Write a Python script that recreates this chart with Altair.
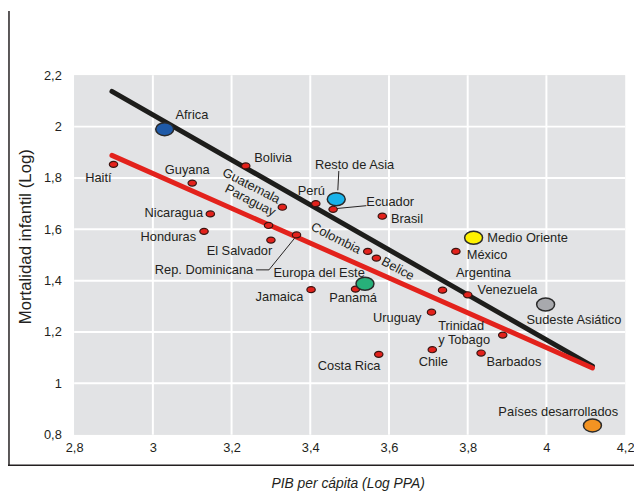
import altair as alt
import pandas as pd

# --- data ---
countries = ["Haití", "Guyana", "Bolivia", "Guatemala", "Perú", "Nicaragua", "Paraguay",
             "Honduras", "Rep. Dominicana", "El Salvador", "Ecuador", "Brasil", "México",
             "Colombia", "Belice", "Panamá", "Jamaica", "Argentina", "Venezuela", "Uruguay",
             "Trinidad y Tobago", "Chile", "Costa Rica", "Barbados"]
gdp = [2.90, 3.10, 3.236, 3.329, 3.414, 3.146, 3.294, 3.13, 3.365, 3.30, 3.458, 3.583, 3.77,
       3.546, 3.568, 3.515, 3.402, 3.736, 3.80, 3.708, 3.889, 3.71, 3.574, 3.834]
mort = [1.853, 1.78, 1.847, 1.686, 1.70, 1.66, 1.615, 1.592, 1.578, 1.558, 1.678, 1.651, 1.514,
        1.514, 1.488, 1.367, 1.365, 1.363, 1.345, 1.277, 1.188, 1.131, 1.113, 1.118]

regions = ["Africa", "Resto de Asia", "Medio Oriente", "Europa del Este", "Sudeste Asiático",
           "Países desarrollados"]
reg_gdp = [3.03, 3.466, 3.815, 3.539, 3.998, 4.117]
reg_mort = [1.99, 1.717, 1.567, 1.388, 1.307, 0.836]
reg_colors = ["#1f5aa8", "#19b3ea", "#fff200", "#27b07a", "#a8a9ad", "#f39322"]

# regression lines
line_names = ["Regiones", "Regiones", "América Latina", "América Latina"]
line_x = [2.896, 4.117, 2.896, 4.117]
line_y = [2.137, 1.067, 1.888, 1.060]
line_colors = ["#1d1d1b", "#e3221c"]

# labels
lab_text = ["Africa", "Haití", "Guyana", "Bolivia", "Guatemala", "Paraguay", "Perú",
            "Resto de Asia", "Ecuador", "Brasil", "Nicaragua", "Honduras", "El Salvador",
            "Rep. Dominicana", "Europa del Este", "Jamaica", "Panamá", "Colombia", "Belice",
            "Medio Oriente", "México", "Argentina", "Venezuela", "Sudeste Asiático", "Uruguay",
            "Trinidad", "y Tobago", "Chile", "Costa Rica", "Barbados", "Países desarrollados"]
lab_x = [3.0575, 2.895, 3.0875, 3.2575, 3.25, 3.2475, 3.4025,
         3.5125, 3.5425, 3.605, 3.1275, 3.11, 3.22,
         3.255, 3.4225, 3.3825, 3.50875, 3.465, 3.6225,
         3.85, 3.7975, 3.84, 3.825, 4.07, 3.6825,
         3.725, 3.725, 3.7125, 3.49875, 3.8475, 4.03]
lab_y = [2.046, 1.80, 1.831, 1.877, 1.769, 1.712, 1.75,
         1.85, 1.708, 1.638, 1.665, 1.569, 1.515,
         1.442, 1.431, 1.335, 1.331, 1.565, 1.446,
         1.565, 1.50, 1.431, 1.362, 1.246, 1.254,
         1.222, 1.168, 1.081, 1.069, 1.081, 0.888]
lab_align = ["left", "right", "center", "left", "center", "center", "center",
             "center", "left", "left", "right", "right", "center",
             "right", "center", "right", "center", "center", "center",
             "left", "left", "center", "left", "center", "right",
             "left", "left", "center", "center", "left", "center"]
lab_angle = [0, 0, 0, 0, 27, 27, 0,
             0, 0, 0, 0, 0, 0,
             0, 0, 0, 0, 27, 28,
             0, 0, 0, 0, 0, 0,
             0, 0, 0, 0, 0, 0]

# leader lines
lead_id = ["Resto de Asia", "Resto de Asia", "Ecuador", "Ecuador",
           "Rep. Dominicana", "Rep. Dominicana", "Rep. Dominicana"]
lead_order = [0, 1, 0, 1, 0, 1, 2]
lead_x = [3.4725, 3.470, 3.4675, 3.5425, 3.262, 3.295, 3.36]
lead_y = [1.827, 1.752, 1.681, 1.692, 1.442, 1.442, 1.565]

x_ticks = [2.8, 3.0, 3.2, 3.4, 3.6, 3.8, 4.0, 4.2]
y_ticks = [0.8, 1.0, 1.2, 1.4, 1.6, 1.8, 2.0, 2.2]

# --- tables ---
df_c = pd.DataFrame({"pais": countries, "pib": gdp, "mort": mort})
df_r = pd.DataFrame({"region": regions, "pib": reg_gdp, "mort": reg_mort, "color": reg_colors})
df_l = pd.DataFrame({"serie": line_names, "pib": line_x, "mort": line_y})
df_t = pd.DataFrame({"txt": lab_text, "pib": lab_x, "mort": lab_y, "align": lab_align,
                     "angle": lab_angle})
df_lead = pd.DataFrame({"id": lead_id, "o": lead_order, "pib": lead_x, "mort": lead_y})
df_xt = pd.DataFrame({"pib": x_ticks[1:-1]})
df_yt = pd.DataFrame({"mort": y_ticks[1:-1]})
df_bg = pd.DataFrame({"x0": [x_ticks[0]], "x1": [x_ticks[-1]],
                      "y0": [y_ticks[0]], "y1": [y_ticks[-1]]})

W, H = 558, 364
FONT = "Liberation Sans"
TXT = "#231f20"
BG = "#e2e3e5"
ELLIPSE = "M -1 0 A 1 0.72 0 1 1 1 0 A 1 0.72 0 1 1 -1 0 Z"

xs = alt.Scale(domain=[2.8, 4.2], nice=False, zero=False)
ys = alt.Scale(domain=[0.8, 2.2], nice=False, zero=False)

fmt = "replace(format(datum.value, '~g'), '.', ',')"

x_axis = alt.Axis(
    values=x_ticks, labelExpr=fmt, title="PIB per cápita (Log PPA)",
    grid=False, domain=False, ticks=False,
    labelFont=FONT, labelFontSize=13, labelColor=TXT, labelPadding=7,
    titleFont=FONT, titleFontSize=14, titleFontStyle="italic", titleFontWeight="normal",
    titleColor=TXT, titleX=277, titleY=49, titleBaseline="middle", titleAnchor="middle",
    labelFlush=False)
y_axis = alt.Axis(
    values=y_ticks, labelExpr=fmt, title="Mortalidad infantil (Log)",
    grid=False, domain=False, ticks=False,
    labelFont=FONT, labelFontSize=13, labelColor=TXT, labelPadding=13,
    titleFont=FONT, titleFontSize=17, titleFontWeight="normal", titleColor=TXT,
    titleX=-49, titleY=163, titleAngle=270, titleBaseline="middle", titleAlign="center",
    labelFlush=False)

bg = alt.Chart(df_bg).mark_rect(color=BG).encode(
    x=alt.X("x0:Q", scale=xs, axis=x_axis), x2="x1:Q",
    y=alt.Y("y0:Q", scale=ys, axis=y_axis), y2="y1:Q")

grid_x = alt.Chart(df_xt).mark_rule(color="white", strokeWidth=2).encode(
    x=alt.X("pib:Q", scale=xs))
grid_y = alt.Chart(df_yt).mark_rule(color="white", strokeWidth=2).encode(
    y=alt.Y("mort:Q", scale=ys))

lines = alt.Chart(df_l).mark_line(strokeWidth=5, strokeCap="round").encode(
    x=alt.X("pib:Q", scale=xs), y=alt.Y("mort:Q", scale=ys),
    color=alt.Color("serie:N", scale=alt.Scale(domain=["Regiones", "América Latina"],
                                               range=line_colors), legend=None))

leads = alt.Chart(df_lead).mark_line(strokeWidth=1, color=TXT).encode(
    x=alt.X("pib:Q", scale=xs), y=alt.Y("mort:Q", scale=ys),
    detail="id:N", order="o:Q")

dots = alt.Chart(df_c).mark_point(shape=ELLIPSE, size=72, filled=True, fill="#e3221c",
                                  stroke="#3b1410", strokeWidth=1.2, opacity=1).encode(
    x=alt.X("pib:Q", scale=xs), y=alt.Y("mort:Q", scale=ys))

bigs = alt.Chart(df_r).mark_point(shape=ELLIPSE, size=330, filled=True,
                                  stroke="#2a2a2a", strokeWidth=1.5, opacity=1).encode(
    x=alt.X("pib:Q", scale=xs), y=alt.Y("mort:Q", scale=ys),
    fill=alt.Fill("color:N", scale=None))


def text_layer(al):
    return alt.Chart(df_t).transform_filter(alt.datum.align == al).mark_text(
        align=al, baseline="middle", font=FONT, fontSize=13, color=TXT).encode(
        x=alt.X("pib:Q", scale=xs), y=alt.Y("mort:Q", scale=ys),
        text="txt:N", angle=alt.Angle("angle:Q", scale=None))


frame_v = alt.Chart().mark_rule(color=TXT, strokeWidth=1.5).encode(
    x=alt.value(-66), y=alt.value(-65), y2=alt.value(395))
frame_h = alt.Chart().mark_rule(color=TXT, strokeWidth=1.5).encode(
    x=alt.value(-67), x2=alt.value(570), y=alt.value(395))

chart = alt.layer(bg, grid_x, grid_y, lines, leads, dots, bigs,
                  text_layer("left"), text_layer("center"), text_layer("right"),
                  frame_v, frame_h).properties(
    width=W, height=H,
    autosize=alt.AutoSizeParams(type="none"),
    padding={"left": 67, "top": 65, "right": 9, "bottom": 61},
).configure_view(fill=BG, strokeWidth=0)

chart.save("out.html", embed_options={"renderer": "svg", "actions": False})
